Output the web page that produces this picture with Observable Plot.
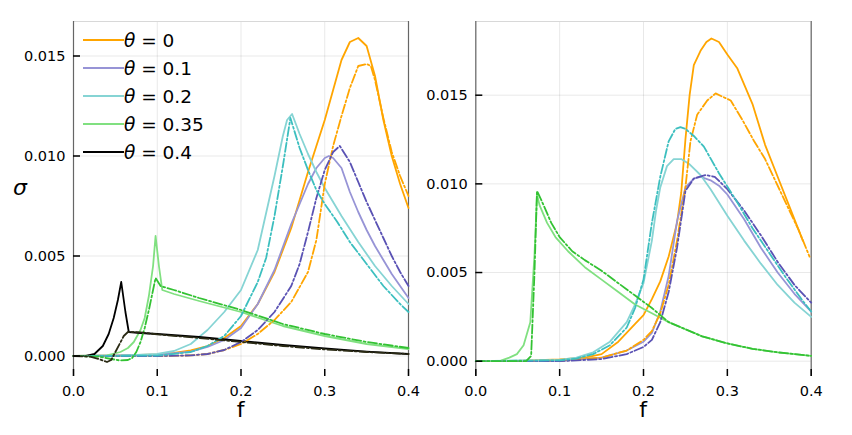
<!DOCTYPE html>
<html><head><meta charset="utf-8">
<script src="https://cdn.jsdelivr.net/npm/d3@7"></script>
<script src="https://cdn.jsdelivr.net/npm/@observablehq/plot@0.6"></script>
<style>
body{margin:0;background:#fff;font-family:"DejaVu Sans",sans-serif}
#wrap{position:relative;width:852px;height:435px;overflow:hidden}
.panel{position:absolute;top:0}
.axlab{position:absolute;font-family:"DejaVu Sans";font-size:22px;color:#000;line-height:1}
.leg{position:absolute;left:83px;font-family:"DejaVu Sans";font-size:18.5px;color:#000;display:flex;align-items:center;height:24px}
.leg i{font-style:italic}
</style></head><body><div id="wrap"></div>
<script>
// ---------- data ----------
const thetaLabels = ["0", "0.1", "0.2", "0.35", "0.4"];
const xTicks = [0, 0.1, 0.2, 0.3, 0.4];
const yTicks = [0, 0.005, 0.010, 0.015];

// Panel A (left)
const A_t0_solid = [[0,0],[0.05,0.00002],[0.1,0.00008],[0.12,0.00015],[0.14,0.00028],[0.16,0.0005],[0.18,0.0009],[0.2,0.0015],[0.22,0.0026],[0.24,0.0042],[0.26,0.0064],[0.28,0.0092],[0.3,0.0118],[0.31,0.0133],[0.32,0.0148],[0.33,0.0157],[0.34,0.0159],[0.35,0.0155],[0.36,0.0140],[0.37,0.0118],[0.38,0.0100],[0.39,0.0086],[0.4,0.0074]];
const A_t0_dash = [[0,0],[0.1,0],[0.14,0.00003],[0.16,0.0001],[0.18,0.0003],[0.2,0.0006],[0.22,0.0011],[0.24,0.0018],[0.26,0.0027],[0.28,0.0042],[0.29,0.0058],[0.3,0.0086],[0.31,0.0105],[0.32,0.0120],[0.33,0.0134],[0.34,0.0145],[0.35,0.0146],[0.355,0.0145],[0.36,0.0138],[0.37,0.0119],[0.38,0.0102],[0.39,0.0090],[0.4,0.0080]];
const A_t1_solid = [[0,0],[0.1,0.00005],[0.14,0.00022],[0.16,0.00045],[0.18,0.0008],[0.2,0.0014],[0.22,0.0026],[0.24,0.0043],[0.26,0.0066],[0.28,0.0086],[0.29,0.0094],[0.3,0.0099],[0.305,0.0100],[0.31,0.0099],[0.32,0.0094],[0.33,0.0082],[0.34,0.0072],[0.35,0.0063],[0.36,0.0055],[0.37,0.0048],[0.38,0.0041],[0.39,0.0035],[0.4,0.0029]];
const A_t1_dash = [[0,0],[0.1,0],[0.14,0.00003],[0.16,0.0001],[0.18,0.0003],[0.2,0.0007],[0.22,0.0013],[0.24,0.0022],[0.26,0.0035],[0.27,0.0046],[0.28,0.0062],[0.29,0.0079],[0.3,0.0093],[0.31,0.0102],[0.318,0.0105],[0.33,0.0097],[0.34,0.0087],[0.35,0.0077],[0.36,0.0068],[0.37,0.0059],[0.38,0.0050],[0.39,0.0042],[0.4,0.0035]];
const A_t2_solid = [[0,0],[0.05,0.00001],[0.1,0.0001],[0.12,0.00025],[0.14,0.0006],[0.16,0.0013],[0.18,0.0022],[0.2,0.0033],[0.22,0.0053],[0.24,0.0090],[0.25,0.0110],[0.255,0.0118],[0.261,0.0121],[0.27,0.0111],[0.28,0.0101],[0.29,0.0092],[0.3,0.0084],[0.32,0.0070],[0.34,0.0057],[0.36,0.0045],[0.38,0.0035],[0.4,0.0026]];
const A_t2_dash = [[0,0],[0.1,0.00002],[0.14,0.0002],[0.16,0.0005],[0.18,0.001],[0.2,0.002],[0.22,0.0037],[0.23,0.0049],[0.24,0.0070],[0.25,0.0095],[0.259,0.0119],[0.27,0.0104],[0.28,0.0093],[0.29,0.0083],[0.3,0.0076],[0.315,0.0067],[0.33,0.0057],[0.35,0.0046],[0.37,0.0035],[0.39,0.0026],[0.4,0.0022]];
const A_t35_solid = [[0,0],[0.04,0.00003],[0.056,0.0002],[0.065,0.0004],[0.072,0.0007],[0.08,0.0013],[0.085,0.0019],[0.09,0.0030],[0.095,0.0045],[0.098,0.0060],[0.102,0.0045],[0.106,0.0033],[0.12,0.0031],[0.15,0.00275],[0.2,0.0022],[0.25,0.0015],[0.3,0.0010],[0.35,0.0006],[0.4,0.00035]];
const A_t35_dash = [[0,0],[0.03,-0.00003],[0.045,-0.00015],[0.055,-0.00022],[0.065,-0.0002],[0.07,-0.0001],[0.075,0.0002],[0.08,0.0007],[0.085,0.0014],[0.09,0.0023],[0.095,0.0033],[0.098,0.0039],[0.104,0.0035],[0.12,0.0033],[0.15,0.0029],[0.2,0.0023],[0.25,0.0016],[0.3,0.0011],[0.35,0.0007],[0.4,0.0004]];
const A_t4_solid = [[0,0],[0.015,0.00001],[0.025,0.0001],[0.035,0.0005],[0.042,0.0011],[0.048,0.0019],[0.053,0.0028],[0.057,0.0037],[0.062,0.0022],[0.066,0.0012],[0.08,0.00115],[0.1,0.0011],[0.15,0.00095],[0.2,0.00075],[0.25,0.00055],[0.3,0.00038],[0.35,0.00022],[0.4,0.0001]];
const A_t4_dash = [[0,0],[0.02,-0.00003],[0.03,-0.00015],[0.04,-0.0003],[0.045,-0.0002],[0.05,0.0002],[0.055,0.0006],[0.06,0.0010],[0.065,0.0012],[0.08,0.00118],[0.1,0.00108],[0.15,0.0009],[0.2,0.0007],[0.25,0.0005],[0.3,0.00033],[0.35,0.0002],[0.4,0.0001]];

// Panel B (right)
const B_t0_solid = [[0,0],[0.05,0.00002],[0.1,0.0001],[0.13,0.0002],[0.15,0.0004],[0.17,0.0011],[0.19,0.0021],[0.2,0.0026],[0.21,0.0035],[0.22,0.0045],[0.23,0.0059],[0.24,0.0078],[0.245,0.0095],[0.25,0.0125],[0.255,0.0150],[0.26,0.0167],[0.268,0.0175],[0.275,0.0180],[0.281,0.0182],[0.29,0.0180],[0.3,0.0173],[0.312,0.0165],[0.33,0.0145],[0.345,0.0122],[0.36,0.0104],[0.375,0.0086],[0.39,0.0068]];
const B_t0_dash = [[0,0],[0.1,0.00002],[0.15,0.0002],[0.18,0.0006],[0.2,0.0012],[0.21,0.0017],[0.22,0.0027],[0.23,0.0043],[0.24,0.0068],[0.25,0.0098],[0.256,0.0124],[0.264,0.0139],[0.276,0.0147],[0.286,0.0151],[0.295,0.0149],[0.304,0.0147],[0.318,0.0136],[0.332,0.0124],[0.345,0.0114],[0.355,0.0104],[0.37,0.0089],[0.385,0.0074],[0.398,0.0059]];
const B_t1_solid = [[0,0],[0.1,0.00002],[0.15,0.0002],[0.18,0.0006],[0.2,0.0011],[0.21,0.0016],[0.22,0.0028],[0.23,0.0048],[0.24,0.0079],[0.25,0.0098],[0.26,0.0103],[0.268,0.0104],[0.28,0.0102],[0.29,0.0099],[0.3,0.0094],[0.32,0.0080],[0.34,0.0064],[0.36,0.0050],[0.38,0.0038],[0.4,0.0028]];
const B_t1_dash = [[0,0],[0.1,0],[0.15,0.00012],[0.18,0.0004],[0.2,0.0008],[0.21,0.0012],[0.22,0.0022],[0.23,0.0039],[0.24,0.0064],[0.25,0.0096],[0.26,0.0103],[0.274,0.0105],[0.285,0.0104],[0.3,0.0097],[0.32,0.0085],[0.34,0.0071],[0.36,0.0056],[0.38,0.0043],[0.4,0.0033]];
const B_t2_solid = [[0,0],[0.1,0.00008],[0.12,0.0002],[0.14,0.0005],[0.16,0.0011],[0.18,0.0022],[0.19,0.0032],[0.2,0.0044],[0.21,0.0068],[0.215,0.0085],[0.22,0.0098],[0.228,0.0110],[0.236,0.0114],[0.245,0.0114],[0.255,0.0111],[0.268,0.0105],[0.28,0.0097],[0.3,0.0082],[0.32,0.0068],[0.34,0.0055],[0.36,0.0043],[0.38,0.0033],[0.4,0.0025]];
const B_t2_dash = [[0,0],[0.1,0.00005],[0.12,0.00015],[0.14,0.0004],[0.16,0.0009],[0.18,0.0019],[0.19,0.0030],[0.2,0.0046],[0.21,0.0078],[0.22,0.0104],[0.23,0.0124],[0.238,0.0131],[0.244,0.0132],[0.25,0.0131],[0.26,0.0127],[0.272,0.0121],[0.29,0.0106],[0.31,0.0091],[0.33,0.0075],[0.35,0.0061],[0.37,0.0047],[0.39,0.0034],[0.4,0.0028]];
const B_t35_solid = [[0,0],[0.03,0.00003],[0.04,0.0002],[0.049,0.0004],[0.057,0.0009],[0.065,0.0022],[0.07,0.0060],[0.073,0.0094],[0.076,0.0088],[0.085,0.0078],[0.095,0.0070],[0.11,0.0062],[0.13,0.0053],[0.15,0.0046],[0.17,0.0039],[0.19,0.0032],[0.21,0.0027],[0.23,0.0022],[0.25,0.0018],[0.27,0.0014],[0.3,0.0010],[0.33,0.0007],[0.36,0.0005],[0.4,0.0003]];
const B_t35_dash = [[0,0],[0.06,0],[0.066,0.0003],[0.07,0.0050],[0.073,0.0096],[0.078,0.0091],[0.09,0.0078],[0.1,0.0070],[0.115,0.0062],[0.13,0.0057],[0.15,0.0051],[0.17,0.0044],[0.19,0.0037],[0.21,0.0030],[0.23,0.0022],[0.25,0.0018],[0.27,0.0014],[0.3,0.0010],[0.33,0.0007],[0.36,0.0005],[0.4,0.0003]];

// ---------- styles ----------
const solidColors = ["#ffa500", "#9794d6", "#86d4d4", "#80e080", "#000000"];
const dashColors  = ["#ffa500", "#5a52b4", "#3cbfbf", "#33c233", "#2a2a14"];
const dashPattern = "9,2.5,2,2.5";

const panelA = [[A_t0_solid,A_t0_dash],[A_t1_solid,A_t1_dash],[A_t2_solid,A_t2_dash],[A_t35_solid,A_t35_dash],[A_t4_solid,A_t4_dash]];
const panelB = [[B_t0_solid,B_t0_dash],[B_t1_solid,B_t1_dash],[B_t2_solid,B_t2_dash],[B_t35_solid,B_t35_dash]];

function seriesMarks(panel){
  const marks = [];
  panel.forEach((pair, i) => {
    marks.push(Plot.line(pair[0], {x: d => d[0], y: d => d[1], stroke: solidColors[i], strokeWidth: 1.8}));
  });
  panel.forEach((pair, i) => {
    marks.push(Plot.line(pair[1], {x: d => d[0], y: d => d[1], stroke: dashColors[i], strokeWidth: 1.8, strokeDasharray: dashPattern}));
  });
  return marks;
}

function makePanel(panel, yDomain, opts){
  return Plot.plot({
    width: opts.width, height: 435,
    marginLeft: opts.ml, marginRight: opts.mr, marginTop: 21, marginBottom: 59,
    style: {fontFamily: "DejaVu Sans", fontSize: "14.5px", color: "#000", background: "transparent", overflow: "visible"},
    x: {domain: [0, 0.4]},
    y: {domain: yDomain},
    marks: [
      Plot.gridX(xTicks, {stroke: "#000", strokeOpacity: 0.09}),
      Plot.gridY(yTicks, {stroke: "#000", strokeOpacity: 0.09}),
      Plot.ruleY([yDomain[1]], {stroke: "#d8d8d8"}),
      Plot.ruleX([0, 0.4], {stroke: "#666", strokeWidth: 1.2}),
      ...seriesMarks(panel),
      Plot.axisX(xTicks, {tickSize: 7, dy: -7, tickFormat: () => "", label: null, strokeWidth: 1.5}),
      Plot.axisY(yTicks, {tickSize: 7, dx: 7, tickFormat: () => "", label: null, strokeWidth: 1.5}),
      Plot.axisX(xTicks, {tickSize: 0, tickPadding: 9, tickFormat: d3.format(".1f"), label: null, fontSize: 14.5}),
      Plot.axisY(yTicks, {tickSize: 0, tickPadding: 8, tickFormat: d3.format(".3f"), label: null, fontSize: 14.5})
    ]
  });
}

const wrap = document.getElementById("wrap");
const left = makePanel(panelA, [-0.001025, 0.016725], {width: 420, ml: 73, mr: 12});
left.classList.add("panel"); left.style.left = "0px";
wrap.appendChild(left);
const right = makePanel(panelB, [-0.000863, 0.019156], {width: 432, ml: 55.3, mr: 41.3});
right.classList.add("panel"); right.style.left = "420px";
wrap.appendChild(right);

// axis labels
function addLabel(txt, x, y, italic){
  const d = document.createElement("div");
  d.className = "axlab"; d.textContent = txt;
  d.style.left = x + "px"; d.style.top = y + "px";
  if (italic) d.style.fontStyle = "italic";
  d.style.transform = "translate(-50%,-50%)";
  wrap.appendChild(d);
}
addLabel("f", 240.5, 410, false);
addLabel("f", 643, 410, false);
addLabel("σ", 20, 188, true);

// legend
thetaLabels.forEach((t, i) => {
  const row = document.createElement("div");
  row.className = "leg";
  row.style.top = (28 + i * 28) + "px";
  row.innerHTML = `<svg width="41" height="4" style="display:block"><line x1="0" y1="2" x2="41" y2="2" stroke="${solidColors[i]}" stroke-width="1.8"/></svg><span><i>θ</i> = ${t}</span>`;
  wrap.appendChild(row);
});
</script></body></html>
